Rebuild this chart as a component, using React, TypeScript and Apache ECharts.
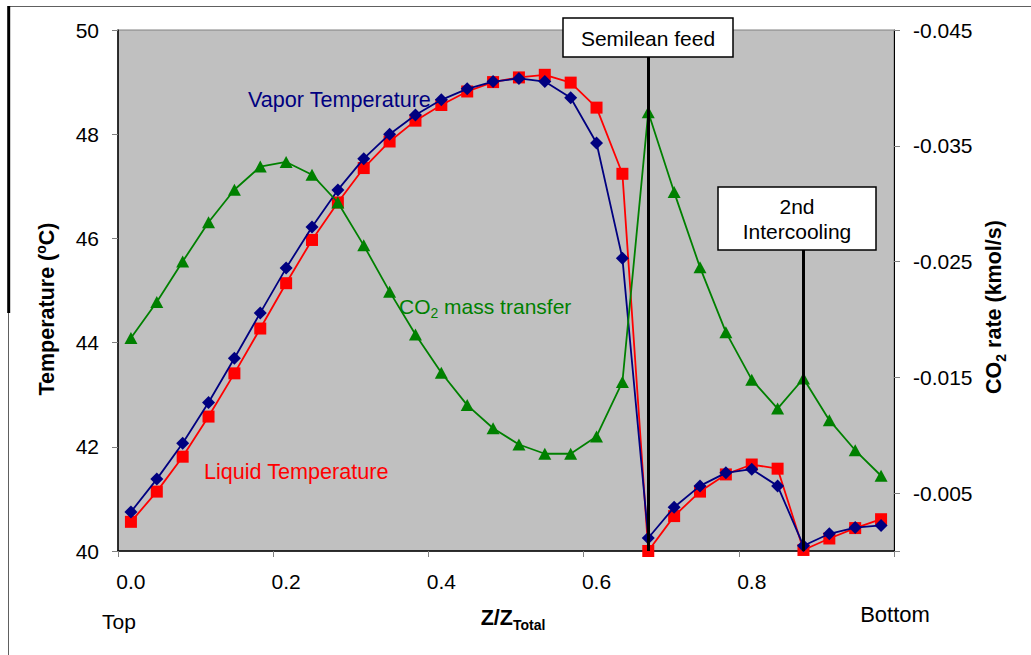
import React, { useEffect, useRef } from "react";
import * as echarts from "echarts";

// Relative column height Z/Z_Total for each of the 30 stages (top to bottom)
const zRatio = [
  "0.000", "0.033", "0.067", "0.100", "0.133", "0.167", "0.200", "0.233", "0.267", "0.300",
  "0.333", "0.367", "0.400", "0.433", "0.467", "0.500", "0.533", "0.567", "0.600", "0.633",
  "0.667", "0.700", "0.733", "0.767", "0.800", "0.833", "0.867", "0.900", "0.933", "0.967",
];

// Vapor temperature, °C
const vaporTemp = [
  40.75, 41.38, 42.07, 42.85, 43.7, 44.57, 45.43, 46.22, 46.93, 47.53,
  48.0, 48.37, 48.66, 48.87, 49.01, 49.07, 49.01, 48.7, 47.83, 45.62,
  40.25, 40.84, 41.25, 41.5, 41.57, 41.25, 40.1, 40.33, 40.45, 40.49,
];

// Liquid temperature, °C
const liquidTemp = [
  40.56, 41.14, 41.81, 42.58, 43.41, 44.27, 45.14, 45.97, 46.69, 47.35,
  47.86, 48.26, 48.56, 48.82, 49.0, 49.09, 49.14, 48.99, 48.51, 47.24,
  40.0, 40.67, 41.14, 41.47, 41.66, 41.58, 40.02, 40.24, 40.44, 40.61,
];

// CO2 mass transfer rate, kmol/s (negative = absorbed)
const co2Rate = [
  -0.0184, -0.0215, -0.025, -0.0284, -0.0312, -0.0332, -0.0336, -0.0325, -0.0301, -0.0264,
  -0.0224, -0.0187, -0.0154, -0.0126, -0.0106, -0.0092, -0.0084, -0.0084, -0.0099, -0.0146,
  -0.0379, -0.031, -0.0245, -0.0189, -0.0148, -0.0123, -0.0149, -0.0113, -0.0087, -0.0065,
];

// Stage indices of the process events and the temperature where their marker lines start
const semileanStage = 20;
const semileanLineTop = 49.48;
const intercoolStage = 26;
const intercoolLineTop = 45.78;

const FONT = "'Liberation Sans', Arial, sans-serif";

export default function App() {
  const ref = useRef<HTMLDivElement>(null);

  useEffect(() => {
    if (!ref.current) return;
    const chart = echarts.init(ref.current, null, { renderer: "svg" });

    const titleRich = {
      b: { fontFamily: FONT, fontSize: 21.5, fontWeight: "bold", lineHeight: 27, fill: "#000" },
      sup: { fontFamily: FONT, fontSize: 14, fontWeight: "bold", lineHeight: 14, verticalAlign: "top", fill: "#000" },
      sub: { fontFamily: FONT, fontSize: 14, fontWeight: "bold", lineHeight: 15, verticalAlign: "bottom", fill: "#000" },
    };

    const option: any = {
      animation: false,
      backgroundColor: "#ffffff",
      textStyle: { fontFamily: FONT, color: "#000" },
      grid: {
        left: 118,
        top: 30,
        width: 776,
        height: 521,
        show: true,
        backgroundColor: "#c0c0c0",
        borderColor: "#808080",
        borderWidth: 1,
        containLabel: false,
        outerBoundsMode: "none",
      },
      xAxis: {
        type: "category",
        data: zRatio,
        boundaryGap: true,
        axisLine: { show: true, lineStyle: { color: "#000", width: 1.5 } },
        axisTick: { show: true, interval: 5, length: 6, lineStyle: { color: "#808080" } },
        axisLabel: {
          interval: 5,
          margin: 20,
          fontSize: 21,
          color: "#000",
          fontFamily: FONT,
          formatter: (v: string) => parseFloat(v).toFixed(1),
        },
        splitLine: { show: false },
      },
      yAxis: [
        {
          type: "value",
          min: 40,
          max: 50,
          interval: 2,
          position: "left",
          axisLine: { show: true, lineStyle: { color: "#000", width: 1.5 } },
          axisTick: { show: true, length: 6, lineStyle: { color: "#808080" } },
          axisLabel: { margin: 19, fontSize: 21, color: "#000", fontFamily: FONT },
          splitLine: { show: false },
        },
        {
          type: "value",
          min: -0.045,
          max: 0,
          interval: 0.01,
          inverse: true,
          position: "right",
          axisLine: { show: true, lineStyle: { color: "#000", width: 1 } },
          axisTick: { show: true, length: 6, lineStyle: { color: "#808080" } },
          axisLabel: {
            margin: 19,
            fontSize: 21,
            color: "#000",
            fontFamily: FONT,
            formatter: (v: number) => (Math.abs(v) < 1e-9 ? "" : v.toFixed(3)),
          },
          splitLine: { show: false },
        },
      ],
      series: [
        {
          name: "Liquid Temperature",
          type: "line",
          yAxisIndex: 0,
          data: liquidTemp,
          clip: false,
          symbol: "rect",
          symbolSize: 12,
          itemStyle: { color: "#ff0000" },
          lineStyle: { color: "#ff0000", width: 1.8 },
          z: 2,
        },
        {
          name: "Vapor Temperature",
          type: "line",
          yAxisIndex: 0,
          data: vaporTemp,
          clip: false,
          symbol: "diamond",
          symbolSize: 13,
          itemStyle: { color: "#000080" },
          lineStyle: { color: "#000080", width: 1.8 },
          z: 3,
        },
        {
          name: "CO2 mass transfer",
          type: "line",
          yAxisIndex: 1,
          data: co2Rate,
          clip: false,
          symbol: "triangle",
          symbolSize: [13, 12],
          itemStyle: { color: "#008000" },
          lineStyle: { color: "#008000", width: 1.8 },
          z: 4,
        },
        {
          name: "events",
          type: "line",
          yAxisIndex: 0,
          data: [],
          z: 6,
          markLine: {
            silent: true,
            symbol: ["none", "none"],
            label: { show: false },
            lineStyle: { color: "#000", width: 3, type: "solid" },
            data: [
              [
                { coord: [zRatio[semileanStage], semileanLineTop] },
                { coord: [zRatio[semileanStage], 40] },
              ],
              [
                { coord: [zRatio[intercoolStage], intercoolLineTop] },
                { coord: [zRatio[intercoolStage], 40] },
              ],
            ],
          },
        },
      ],
      graphic: [
        // outer frame
        { type: "line", z: 100, shape: { x1: 8, y1: 6.5, x2: 1031, y2: 6.5 }, style: { stroke: "#606060", lineWidth: 1 } },
        { type: "line", z: 100, shape: { x1: 8.5, y1: 6, x2: 8.5, y2: 655 }, style: { stroke: "#606060", lineWidth: 1 } },
        { type: "line", z: 100, shape: { x1: 8.7, y1: 6, x2: 8.7, y2: 313 }, style: { stroke: "#000", lineWidth: 3 } },
        // axis titles
        {
          type: "text",
          z: 100,
          x: 47,
          y: 309,
          rotation: Math.PI / 2,
          style: {
            text: "{b|Temperature (}{sup|o}{b|C)}",
            align: "center",
            verticalAlign: "middle",
            rich: titleRich,
          },
        },
        {
          type: "text",
          z: 100,
          x: 994,
          y: 307,
          rotation: Math.PI / 2,
          style: {
            text: "{b|CO}{sub|2}{b| rate (kmol/s)}",
            align: "center",
            verticalAlign: "middle",
            rich: titleRich,
          },
        },
        {
          type: "text",
          z: 100,
          x: 513,
          y: 618,
          style: {
            text: "{b|Z/Z}{sub|Total}",
            align: "center",
            verticalAlign: "middle",
            rich: titleRich,
          },
        },
        {
          type: "text",
          z: 100,
          x: 119,
          y: 621,
          style: { text: "Top", fontFamily: FONT, fontSize: 21, fill: "#000", align: "center", verticalAlign: "middle" },
        },
        {
          type: "text",
          z: 100,
          x: 895,
          y: 614,
          style: { text: "Bottom", fontFamily: FONT, fontSize: 22, fill: "#000", align: "center", verticalAlign: "middle" },
        },
        // series captions
        {
          type: "text",
          z: 100,
          x: 248,
          y: 99,
          style: { text: "Vapor Temperature", fontFamily: FONT, fontSize: 21.6, fill: "#000080", align: "left", verticalAlign: "middle" },
        },
        {
          type: "text",
          z: 100,
          x: 204,
          y: 471,
          style: { text: "Liquid Temperature", fontFamily: FONT, fontSize: 21.6, fill: "#ff0000", align: "left", verticalAlign: "middle" },
        },
        {
          type: "text",
          z: 100,
          x: 399,
          y: 306,
          style: {
            text: "{n|CO}{sub|2}{n| mass transfer}",
            align: "left",
            verticalAlign: "middle",
            rich: {
              n: { fontFamily: FONT, fontSize: 21, lineHeight: 27, fill: "#008000" },
              sub: { fontFamily: FONT, fontSize: 14, lineHeight: 15, verticalAlign: "bottom", fill: "#008000" },
            },
          },
        },
        // event boxes
        {
          type: "rect",
          z: 100,
          shape: { x: 563, y: 18, width: 170, height: 39 },
          style: { fill: "#ffffff", stroke: "#000", lineWidth: 1.5 },
        },
        {
          type: "text",
          z: 101,
          x: 648,
          y: 38,
          style: { text: "Semilean feed", fontFamily: FONT, fontSize: 21, fill: "#000", align: "center", verticalAlign: "middle" },
        },
        {
          type: "rect",
          z: 100,
          shape: { x: 718, y: 187, width: 158, height: 63 },
          style: { fill: "#ffffff", stroke: "#000", lineWidth: 1.5 },
        },
        {
          type: "text",
          z: 101,
          x: 797,
          y: 219,
          style: {
            text: "2nd\nIntercooling",
            fontFamily: FONT,
            fontSize: 21,
            lineHeight: 25,
            fill: "#000",
            align: "center",
            verticalAlign: "middle",
          },
        },
      ],
    };

    chart.setOption(option);
    return () => chart.dispose();
  }, []);

  return (
    <div
      ref={ref}
      style={{ position: "fixed", left: 0, top: 0, width: 1031, height: 655, background: "#fff" }}
    />
  );
}
